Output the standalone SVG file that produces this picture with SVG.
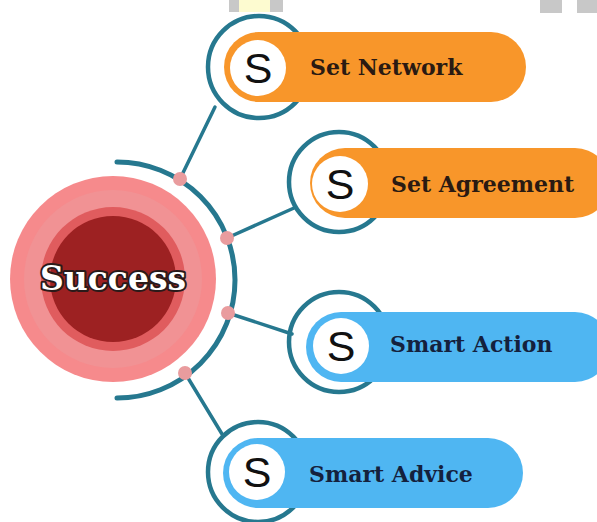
<svg xmlns="http://www.w3.org/2000/svg" width="597" height="522" viewBox="0 0 597 522">
<style>
.ring{fill:none;stroke:#26788f;stroke-width:4.5}
.conn{fill:none;stroke:#26788f;stroke-width:3.5;stroke-linecap:round}
.dot{fill:#e99c9e}
.orange{fill:#f8962a}
.blue{fill:#4fb6f2}
.wc{fill:#ffffff}
.s{font-family:"Liberation Sans",Arial,sans-serif;font-size:43px;fill:#111;text-anchor:middle}
.lbl{font-family:"DejaVu Serif","Liberation Serif",serif;font-weight:bold;font-size:22px;fill:#2a1a12}
.lblb{font-family:"DejaVu Serif","Liberation Serif",serif;font-weight:bold;font-size:22px;fill:#14213d}
</style>
<rect width="597" height="522" fill="#ffffff"/>
<g id="artifacts">
<rect x="229" y="0" width="10" height="12" fill="#c8c8c8"/>
<rect x="239" y="0" width="31" height="12" fill="#fdfbd0"/>
<rect x="270" y="0" width="13" height="12" fill="#c8c8c8"/>
<rect x="540" y="0" width="22" height="13" fill="#c8c8c8"/>
<rect x="577" y="0" width="20" height="13" fill="#c8c8c8"/>
</g>
<g id="connectors">
<path class="conn" d="M117,162 A118,118 0 0 1 117,398" style="stroke-width:5"/>
<line class="conn" x1="180" y1="179" x2="215" y2="107"/>
<line class="conn" x1="227" y1="238" x2="294" y2="208"/>
<line class="conn" x1="228" y1="313" x2="292" y2="334"/>
<line class="conn" x1="185" y1="373" x2="222" y2="434"/>
<circle class="dot" cx="180" cy="179" r="7"/>
<circle class="dot" cx="227" cy="238" r="7"/>
<circle class="dot" cx="228" cy="313" r="7"/>
<circle class="dot" cx="185" cy="373" r="7"/>
</g>
<g id="success">
<circle cx="113" cy="279" r="103" fill="#f68a8c"/>
<circle cx="113" cy="279" r="89" fill="#f19294"/>
<circle cx="113" cy="279" r="72" fill="#e05c5e"/>
<circle cx="113" cy="279" r="63" fill="#9d2122"/>
<text x="113" y="290" text-anchor="middle" font-family="DejaVu Serif,'Liberation Serif',serif" font-size="33" font-weight="bold" fill="#ffffff" stroke="#2b1a1a" stroke-width="4" stroke-linejoin="round" paint-order="stroke">Success</text>
</g>
<g id="node-set-network">
<circle class="ring" cx="259" cy="67" r="51"/>
<rect class="orange" x="224" y="32" width="302" height="70" rx="35"/>
<circle class="wc" cx="258" cy="68" r="28"/>
<text class="s" x="258" y="83">S</text>
<text class="lbl" x="310" y="75">Set Network</text>
</g>
<g id="node-set-agreement">
<circle class="ring" cx="339" cy="182" r="50"/>
<rect class="orange" x="310" y="148" width="300" height="70" rx="35"/>
<circle class="wc" cx="340" cy="184" r="28"/>
<text class="s" x="340" y="199">S</text>
<text class="lbl" x="391" y="192">Set Agreement</text>
</g>
<g id="node-smart-action">
<circle class="ring" cx="339" cy="342" r="50"/>
<rect class="blue" x="306" y="312" width="304" height="70" rx="35"/>
<circle class="wc" cx="341" cy="346" r="28"/>
<text class="s" x="341" y="361">S</text>
<text class="lblb" x="390" y="352">Smart Action</text>
</g>
<g id="node-smart-advice">
<circle class="ring" cx="258" cy="472" r="50"/>
<rect class="blue" x="223" y="438" width="300" height="70" rx="35"/>
<circle class="wc" cx="257" cy="472" r="28"/>
<text class="s" x="257" y="487">S</text>
<text class="lblb" x="309" y="482">Smart Advice</text>
</g>
</svg>
